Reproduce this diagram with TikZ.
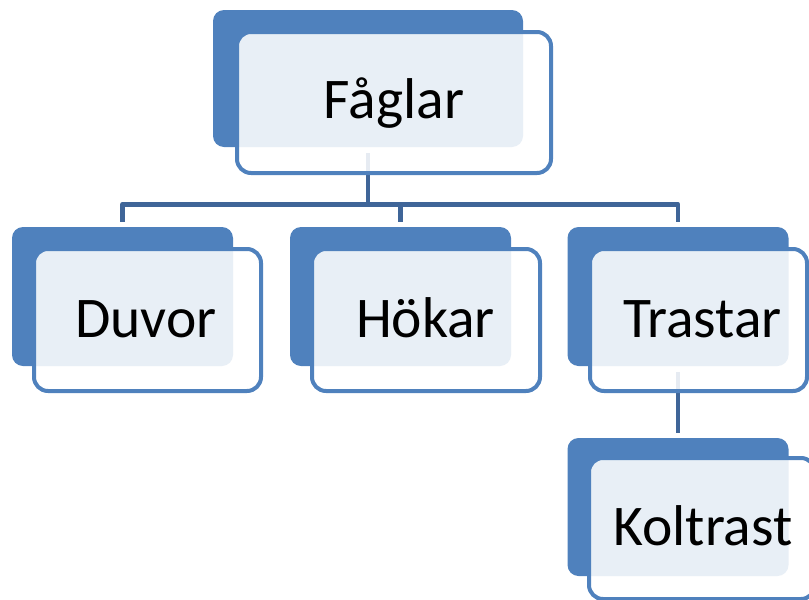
\documentclass[tikz,border=0pt]{standalone}
\usepackage{fontspec}
\setmainfont{Carlito}
\definecolor{accent}{HTML}{4F81BD}
\definecolor{linkblue}{HTML}{3F6598}
\begin{document}
\begin{tikzpicture}[x=1pt,y=-1pt,
  backcard/.style={rectangle, rounded corners=11pt, fill=accent, inner sep=0pt,
    minimum width=221pt, minimum height=139pt},
  frontcard/.style={rectangle, rounded corners=14pt, draw=accent, line width=4pt,
    fill=white, fill opacity=0.875, inner sep=0pt, minimum height=142pt},
  caption/.style={anchor=base, inner sep=0pt, font=\fontsize{57.5}{69}\selectfont},
  link/.style={draw=linkblue, line width=4.6pt, line join=round,
    shorten <=6pt, shorten >=5pt}
]
\useasboundingbox (0,0) rectangle (809,600);
\clip (0,0) rectangle (809,600);

% coloured back cards
\node[backcard, minimum width=310pt, minimum height=137pt] (faglar-back) at (368,78.5) {};
\node[backcard] (duvor-back)    at (122.5,296.5) {};
\node[backcard] (hokar-back)    at (400.5,296.5) {};
\node[backcard] (trastar-back)  at (678,296.5) {};
\node[backcard, minimum height=138pt] (koltrast-back) at (678,507) {};

% hierarchy connectors
\draw[link] (faglar-back.south) -- ++(0,57) -| (duvor-back.north);
\draw[link] (faglar-back.south) -- ++(0,57) -| (hokar-back.north);
\draw[link] (faglar-back.south) -- ++(0,57) -| (trastar-back.north);
\draw[link] (trastar-back.south) -- (koltrast-back.north);

% translucent front cards
\node[frontcard, minimum width=314pt, minimum height=141pt] (faglar) at (394,102.5) {};
\node[frontcard, minimum width=227pt] (duvor)   at (147.5,320) {};
\node[frontcard, minimum width=228pt] (hokar)   at (426,320) {};
\node[frontcard, minimum width=217pt] (trastar) at (698.5,320) {};
\node[frontcard, minimum width=226pt, minimum height=141pt] (koltrast) at (702,528.5) {};

% labels
\node[caption] (faglar-text)   at (394,118)   {Fåglar};
\node[caption] (duvor-text)    at (146,337)   {Duvor};
\node[caption] (hokar-text)    at (425.5,337) {Hökar};
\node[caption] (trastar-text)  at (702.5,337) {Trastar};
\node[caption] (koltrast-text) at (703,545)   {Koltrast};
\end{tikzpicture}
\end{document}
